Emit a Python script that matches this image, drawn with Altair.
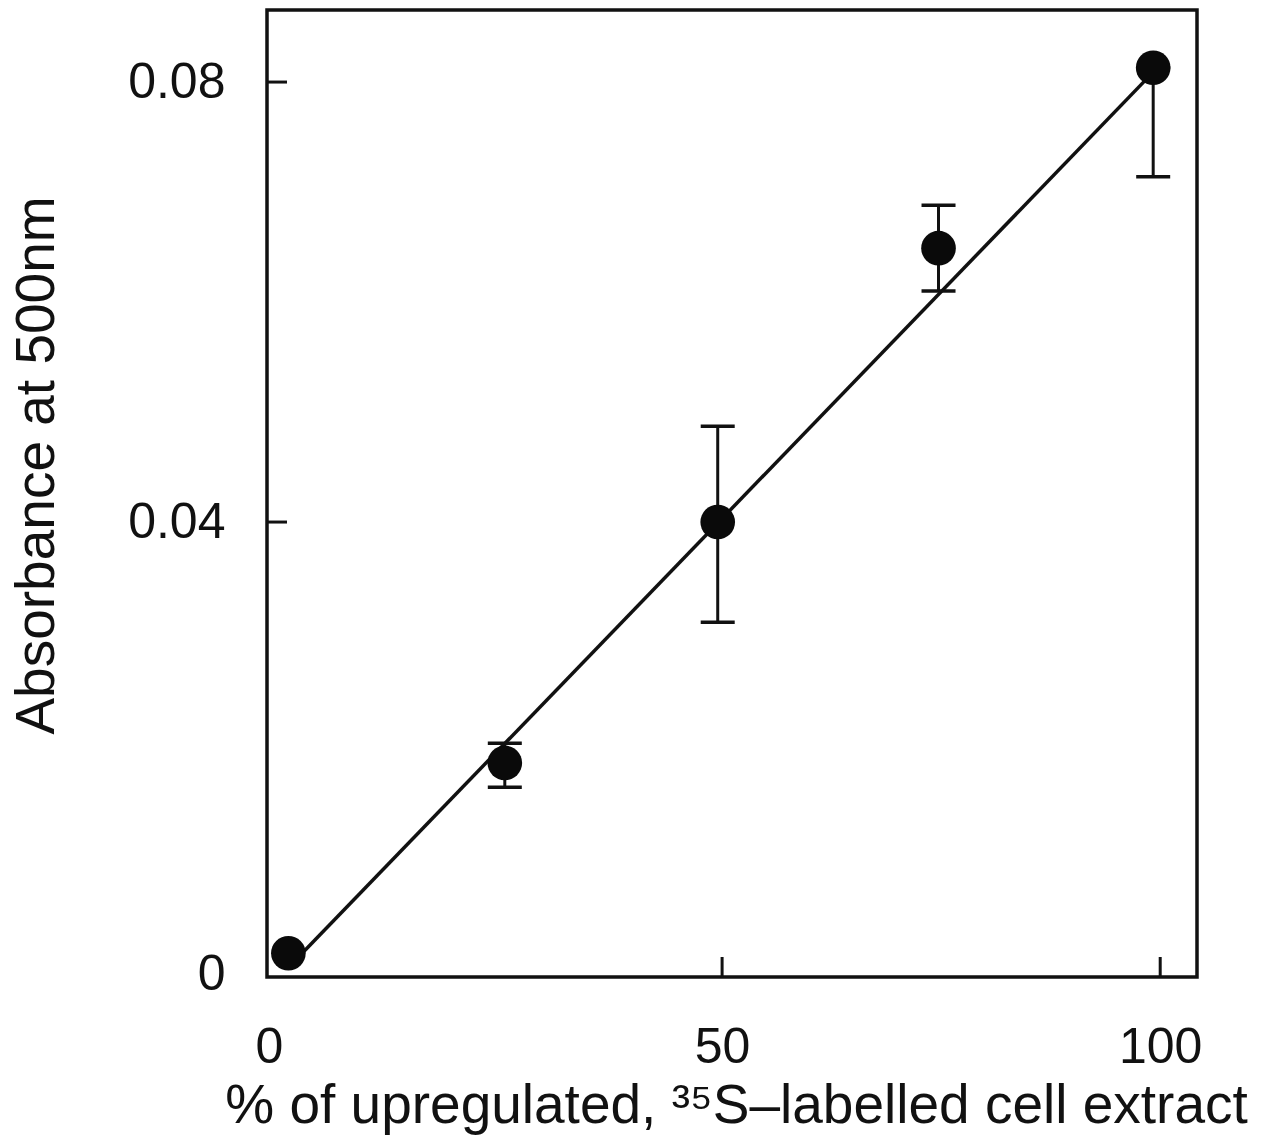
import altair as alt
import pandas as pd

# ---- data ----
pct = [0.5, 25.2, 49.5, 74.7, 99.2]
absorb = [0.0008, 0.0181, 0.0400, 0.0649, 0.0813]
err_low = [0.0008, 0.0159, 0.0309, 0.0610, 0.0714]
err_high = [0.0008, 0.0199, 0.0487, 0.0688, 0.0813]

fit_x = [0.5, 99.2]
fit_y = [-0.0005, 0.0809]

x_tick_vals = [50, 100]
y_tick_vals = [0.04, 0.08]
x_label_vals = [0, 50, 100]
y_label_vals = [0, 0.04, 0.08]

x_title = "% of upregulated, \u00b3\u2075S\u2013labelled cell extract"
y_title = "Absorbance at 500nm"

pts = pd.DataFrame({"pct": pct, "absorb": absorb, "lo": err_low, "hi": err_high})
errs = pts[pts["hi"] > pts["lo"]]
fit = pd.DataFrame({"pct": fit_x, "absorb": fit_y})
xt = pd.DataFrame({"pct": x_tick_vals})
yt = pd.DataFrame({"absorb": y_tick_vals})

W, H = 930, 967
FONT = "Liberation Sans"
INK = "#111111"

xscale = alt.Scale(domain=[-1.94, 104.2], nice=False, zero=False)
yscale = alt.Scale(domain=[-0.00136, 0.08655], nice=False, zero=False)

xaxis = alt.Axis(
    values=x_label_vals, domain=False, ticks=False, tickSize=0, grid=False,
    labelFont=FONT, labelFontSize=50, labelColor=INK, labelPadding=45,
    labelFlush=False, labelOverlap=False,
    labelOffset=alt.condition("datum.value == 0", alt.value(-15), alt.value(0)),
    title=x_title, titleFont=FONT, titleFontSize=55, titleFontWeight="normal",
    titleColor=INK, titleX=469, titleY=145, titleAlign="center",
    titleBaseline="alphabetic",
)
yaxis = alt.Axis(
    values=y_label_vals, domain=False, ticks=False, tickSize=0, grid=False,
    labelFont=FONT, labelFontSize=50, labelColor=INK, labelPadding=42,
    labelFlush=False, labelOverlap=False,
    labelExpr="datum.value == 0 ? '0' : format(datum.value, '.2f')",
    labelOffset=alt.condition("datum.value == 0", alt.value(12), alt.value(0)),
    title=y_title, titleFont=FONT, titleFontSize=55, titleFontWeight="normal",
    titleColor=INK, titleX=-214, titleY=455, titleAlign="center",
    titleBaseline="alphabetic", titleAngle=270,
)

X = alt.X("pct:Q", scale=xscale, axis=xaxis)
Y = alt.Y("absorb:Q", scale=yscale, axis=yaxis)

fit_line = alt.Chart(fit).mark_line(color=INK, strokeWidth=3.5).encode(x=X, y=Y)

err_rule = alt.Chart(errs).mark_rule(color=INK, strokeWidth=3).encode(
    x=X, y=alt.Y("lo:Q", scale=yscale, axis=yaxis), y2="hi:Q"
)
cap_lo = alt.Chart(errs).mark_tick(orient="horizontal", size=34, thickness=3.5, color=INK, opacity=1).encode(
    x=X, y=alt.Y("lo:Q", scale=yscale, axis=yaxis)
)
cap_hi = alt.Chart(errs).mark_tick(orient="horizontal", size=34, thickness=3.5, color=INK, opacity=1).encode(
    x=X, y=alt.Y("hi:Q", scale=yscale, axis=yaxis)
)

points = alt.Chart(pts).mark_circle(size=1200, color="#0a0a0a", opacity=1).encode(x=X, y=Y)

xticks = alt.Chart(xt).mark_rule(color=INK, strokeWidth=3).encode(
    x=X, y=alt.value(H - 20), y2=alt.value(H)
)
yticks = alt.Chart(yt).mark_rule(color=INK, strokeWidth=3).encode(
    y=Y, x=alt.value(0), x2=alt.value(20)
)

chart = alt.layer(
    fit_line, err_rule, cap_lo, cap_hi, points, xticks, yticks
).properties(
    width=W, height=H,
    autosize=alt.AutoSizeParams(type="none"),
    padding={"left": 267, "top": 10, "right": 77, "bottom": 166},
    background="white",
).configure_view(
    stroke=INK, strokeWidth=3.5
)

chart.save("out.html", embed_options={"renderer": "svg", "actions": False})
